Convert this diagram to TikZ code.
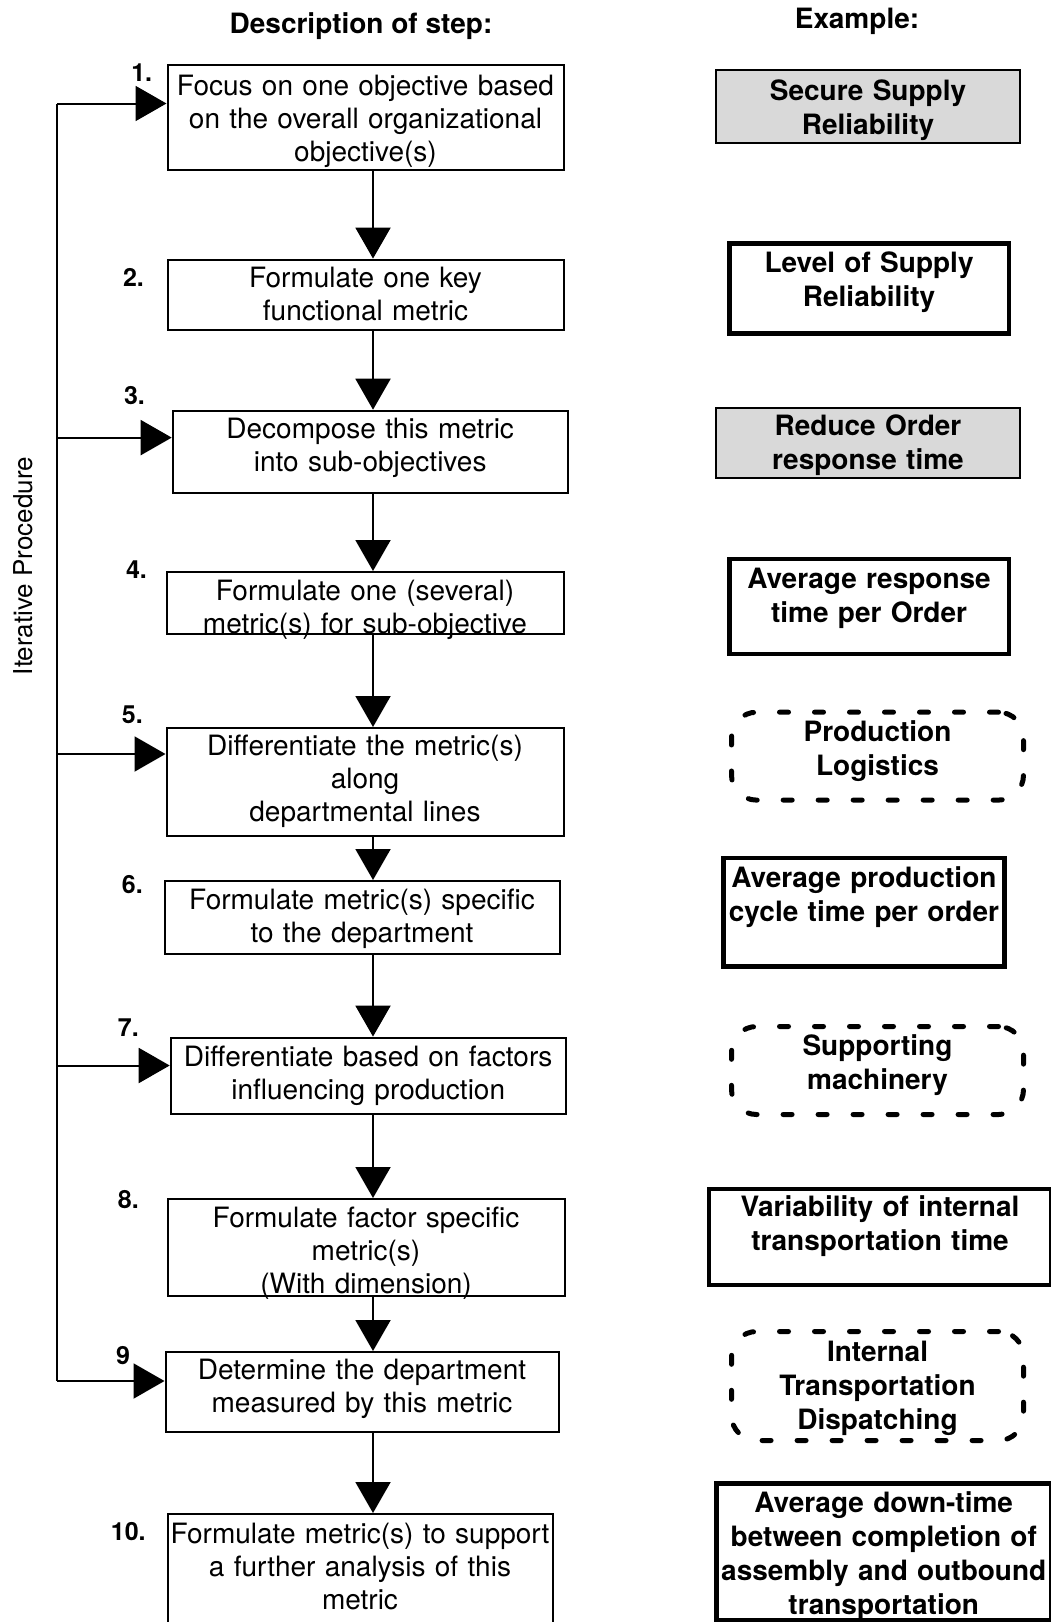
\documentclass[tikz,border=0pt]{standalone}
\usepackage{fontspec}
\setmainfont{TeX Gyre Heros}
\usetikzlibrary{arrows.meta}
\begin{document}
\begin{tikzpicture}[x=1pt,y=-1pt,
  desc/.style={draw, line width=2pt, inner sep=0pt, anchor=north west, align=center,
    font=\fontsize{28}{33}\selectfont},
  ex/.style={inner sep=0pt, anchor=north west, align=center,
    font=\fontsize{28}{34}\selectfont\bfseries},
  exsolid/.style={ex, draw, line width=4.5pt},
  exshade/.style={ex, draw, line width=2pt, fill=black!15},
  exdash/.style={ex, draw, line width=5pt, rounded corners=25pt,
    dash pattern=on 9pt off 26pt, line cap=round},
  num/.style={font=\fontsize{25}{25}\selectfont\bfseries, inner sep=0pt},
  head/.style={font=\fontsize{28}{28}\selectfont\bfseries, inner sep=0pt},
  flow/.style={line width=2pt, -{Triangle[width=35pt,length=31pt]}},
  link/.style={line width=2pt},
]
\useasboundingbox (0,0) rectangle (1051,1622);
\fill[white] (0,0) rectangle (1051,1622);
\clip (0,0) rectangle (1051,1622);

% column headings
\node[head] (hdesc) at (361,26) {Description of step:};
\node[head] (hex) at (857,21) {Example:};

% side label of the feedback loop
\node[rotate=90, inner sep=0pt, font=\fontsize{26}{26}\selectfont] (iter) at (23,566) {Iterative Procedure};

% step boxes
\node[desc, text width=396pt, text height=30pt, text depth=74.6pt] (b1) at (166.5,64)
  {Focus on one objective based\\on the overall organizational\\objective(s)};
\node[desc, text width=396pt, text height=27.6pt, text depth=42.8pt] (b2) at (166.5,258.6)
  {Formulate one key\\functional metric};
\node[desc, text width=395pt, text height=27.5pt, text depth=55.2pt] (b3) at (171.7,409.7)
  {Decompose this metric\\into sub-objectives};
\node[desc, text width=397pt, text height=28.7pt, text depth=33.3pt] (b4) at (165.5,571)
  {Formulate one (several)\\metric(s) for sub-objective};
\node[desc, text width=397pt, text height=27.8pt, text depth=80.2pt] (b5) at (165.5,727)
  {Differentiate the metric(s)\\along\\departmental lines};
\node[desc, text width=395pt, text height=28pt, text depth=44.8pt] (b6) at (163.5,880)
  {Formulate metric(s) specific\\to the department};
\node[desc, text width=395pt, text height=28.6pt, text depth=47.8pt] (b7) at (169.7,1036.6)
  {Differentiate based on factors\\influencing production};
\node[desc, text width=397pt, text height=28.6pt, text depth=68.4pt] (b8) at (166.5,1198)
  {Formulate factor specific\\metric(s)\\(With dimension)};
\node[desc, text width=393pt, text height=27.6pt, text depth=52.1pt] (b9) at (164.5,1351)
  {Determine the department\\measured by this metric};
\node[desc, text width=385pt, text height=29pt, text depth=138pt] (b10) at (166.5,1513)
  {Formulate metric(s) to support\\a further analysis of this\\metric};

% step numbers
\node[num] (n1) at (141.7,72.4) {1.};
\node[num] (n2) at (133.5,277) {2.};
\node[num] (n3) at (134.5,396) {3.};
\node[num] (n4) at (136.5,570) {4.};
\node[num] (n5) at (132.4,715) {5.};
\node[num] (n6) at (132.4,884.5) {6.};
\node[num] (n7) at (128.3,1028) {7.};
\node[num] (n8) at (128.3,1200) {8.};
\node[num] (n9) at (123,1356) {9};
\node[num] (n10) at (128.3,1532) {10.};

% example boxes
\node[exshade, text width=304pt, text height=29.7pt, text depth=42.7pt] (e1) at (715,69.3)
  {Secure Supply\\Reliability};
\node[exsolid, text width=279.6pt, text height=29.7pt, text depth=60.3pt] (e2) at (727,241)
  {Level of Supply\\Reliability};
\node[exshade, text width=304pt, text height=27.4pt, text depth=43pt] (e3) at (715,406.6)
  {Reduce Order\\response time};
\node[exsolid, text width=279.6pt, text height=29.4pt, text depth=65.7pt] (e4) at (727,556.6)
  {Average response\\time per Order};
\node[exdash, text width=292pt, text height=29.3pt, text depth=58.6pt] (e5) at (729,709.7)
  {Production\\Logistics};
\node[exsolid, text width=281.4pt, text height=29.5pt, text depth=79pt] (e6) at (721,855.5)
  {Average production\\cycle time per order};
\node[exdash, text width=292pt, text height=29pt, text depth=59pt] (e7) at (729,1024)
  {Supporting\\machinery};
\node[exsolid, text width=342.4pt, text height=27.4pt, text depth=68.6pt] (e8) at (706.6,1186.6)
  {Variability of internal\\transportation time};
\node[exdash, text width=292pt, text height=30pt, text depth=79pt] (e9) at (729,1329)
  {Internal\\Transportation\\Dispatching};
\node[exsolid, text width=335pt, text height=28.6pt, text depth=108pt] (e10) at (714,1481.4)
  {Average down-time\\between completion of\\assembly and outbound\\transportation};

% main flow
\coordinate (cx) at (373,0);
\draw[flow] (b1.south -| cx) -- (b2.north -| cx);
\draw[flow] (b2.south -| cx) -- (b3.north -| cx);
\draw[flow] (b3.south -| cx) -- (b4.north -| cx);
\draw[flow] (b4.south -| cx) -- (b5.north -| cx);
\draw[flow] (b5.south -| cx) -- (b6.north -| cx);
\draw[flow] (b6.south -| cx) -- (b7.north -| cx);
\draw[flow] (b7.south -| cx) -- (b8.north -| cx);
\draw[flow] (b8.south -| cx) -- (b9.north -| cx);
\draw[flow] (b9.south -| cx) -- (b10.north -| cx);

% iterative feedback loop
\coordinate (f1) at (57,103.5);
\coordinate (f3) at (57,437.6);
\coordinate (f5) at (57,754);
\coordinate (f7) at (57,1065.5);
\coordinate (f9) at (57,1381);
\draw[link] (f1) -- (f9);
\draw[flow] (f1) -- (b1.west |- f1);
\draw[flow] (f3) -- (b3.west |- f3);
\draw[flow] (f5) -- (b5.west |- f5);
\draw[flow] (f7) -- (b7.west |- f7);
\draw[flow] (f9) -- (b9.west |- f9);
\end{tikzpicture}
\end{document}
